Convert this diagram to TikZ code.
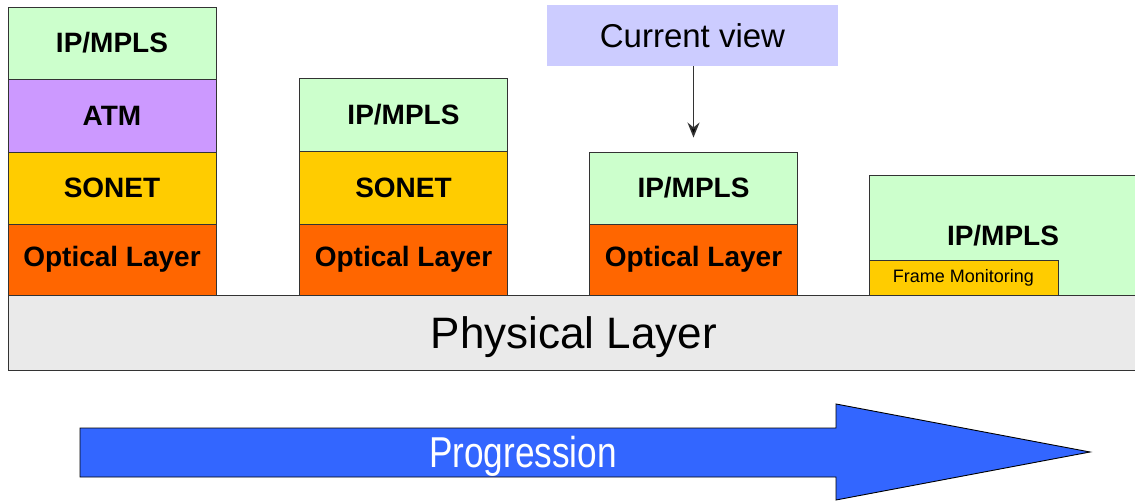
\documentclass[tikz,border=0pt]{standalone}
\usepackage{fontspec}
\setmainfont{Liberation Sans}
\usetikzlibrary{arrows.meta}
\definecolor{ipgreen}{HTML}{CCFFCC}
\definecolor{atmpurple}{HTML}{CC99FF}
\definecolor{sonetyellow}{HTML}{FFCC00}
\definecolor{opticorange}{HTML}{FF6600}
\definecolor{physgray}{HTML}{EAEAEA}
\definecolor{viewblue}{HTML}{CCCCFF}
\definecolor{progblue}{HTML}{3366FF}
\definecolor{edge}{HTML}{333333}
\tikzset{
  layer/.style={draw=edge, line width=0.9pt, inner sep=0pt, minimum width=208,
    font=\fontsize{28}{28}\selectfont\bfseries},
  ip/.style={layer, fill=ipgreen},
  atm/.style={layer, fill=atmpurple},
  sonet/.style={layer, fill=sonetyellow},
  optic/.style={layer, fill=opticorange},
  pointer/.style={draw=edge, line width=1.6pt, -{Stealth[length=15pt,width=12pt,fill=black]}},
}
\begin{document}
\begin{tikzpicture}[x=1pt, y=-1pt]
\useasboundingbox (0,0) rectangle (1135,502);

% physical layer band
\node[draw=edge, line width=0.9pt, fill=physgray, inner sep=0pt,
      minimum width=1132, minimum height=75, text height=32pt, text depth=0pt,
      font=\fontsize{44}{44}\selectfont]
  (phys) at (574,332.5) {Physical Layer};

% first stack: IP over ATM over SONET over optics
\node[ip,    minimum height=72] (ipA)  at (112,43)    {IP/MPLS};
\node[atm,   minimum height=73] (atmA) at (112,115.5) {ATM};
\node[sonet, minimum height=72] (sonA) at (112,188)   {SONET};
\node[optic, minimum height=71] (optA) at (112,259.5) {Optical Layer};

% second stack: IP over SONET over optics
\node[ip,    minimum height=73] (ipB)  at (403.5,114.5) {IP/MPLS};
\node[sonet, minimum height=73] (sonB) at (403.5,187.5) {SONET};
\node[optic, minimum height=71] (optB) at (403.5,259.5) {Optical Layer};

% third stack: IP directly over optics
\node[ip,    minimum height=72] (ipC)  at (693.5,188)   {IP/MPLS};
\node[optic, minimum height=71] (optC) at (693.5,259.5) {Optical Layer};

% fourth stack: IP with frame monitoring
\node[ip, minimum width=269, minimum height=120] (ipD) at (1003.5,235) {};
\node[font=\fontsize{28}{28}\selectfont\bfseries] (ipDt) at (1003,236) {IP/MPLS};
\node[draw=edge, line width=0.9pt, fill=sonetyellow, inner sep=0pt,
      minimum width=189, minimum height=35, font=\fontsize{18}{18}\selectfont]
  (fm) at (963.5,277.5) {Frame Monitoring};

% current view marker
\node[fill=viewblue, inner sep=0pt, minimum width=291, minimum height=61,
      font=\fontsize{33}{33}\selectfont] (cv) at (692.5,35.5) {Current view};
\draw[pointer] (cv.south -| ipC.north) -- ([yshift=14pt]ipC.north);

% progression arrow
\draw[draw=black, line width=0.9pt, fill=progblue]
  (80,428) -- (836,428) -- (836,404) -- (1090,452) -- (836,500)
  -- (836,477) -- (80,477) -- cycle;
\node[text=white, font=\fontsize{40}{40}\selectfont, xscale=0.88, yscale=1.08] (prog) at (523,456) {Progression};
\end{tikzpicture}
\end{document}
